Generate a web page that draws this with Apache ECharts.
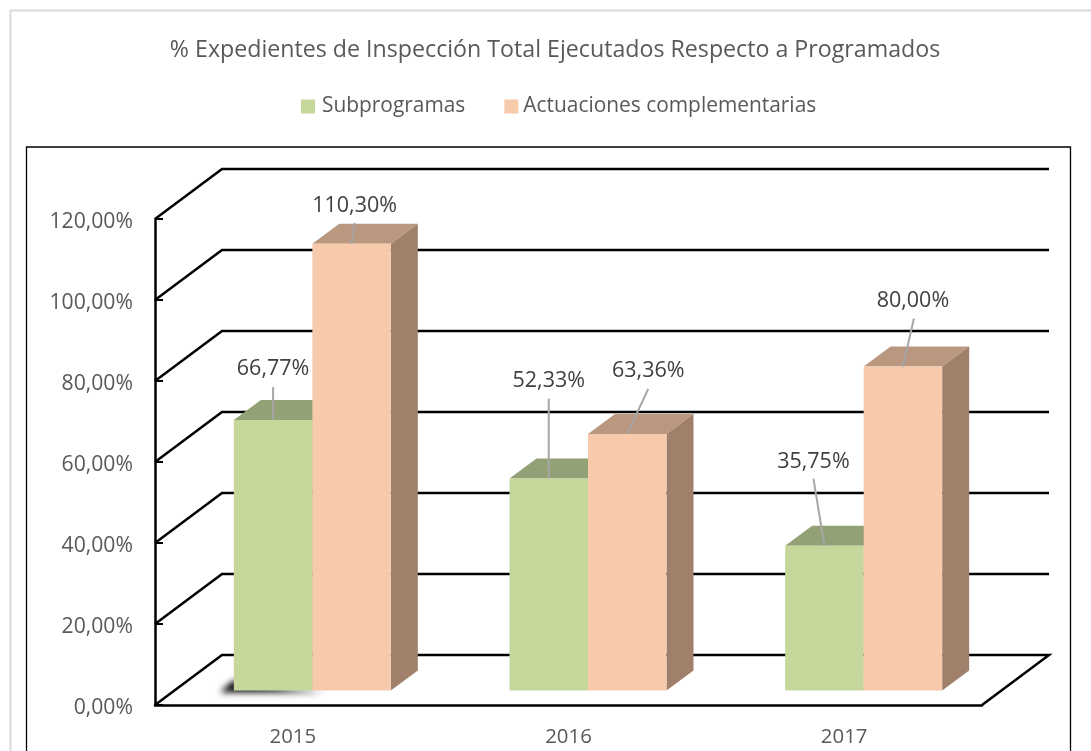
<!DOCTYPE html>
<html>
<head>
<meta charset="utf-8">
<style>html,body{margin:0;padding:0;background:#fff}#c{width:1091px;height:751px}</style>
<script src="https://cdn.jsdelivr.net/npm/echarts@6/dist/echarts.min.js"></script>
</head>
<body>
<div id="c"></div>
<script>
const categories = ['2015', '2016', '2017'];
const subprogramas = [66.77, 52.33, 35.75];
const actuaciones = [110.30, 63.36, 80.00];
const yTicks = [0, 20, 40, 60, 80, 100, 120];

const FONT = '"Open Sans", sans-serif';
const WALL = { dx: 67, dy: 50 };
const BAR_DEPTH = { dx: 27, dy: 20 };
const BAR_INSET = { dx: 19.5, dy: 14.5 };
const BAR_W = 78.5;
// leader line geometry of each data label, relative to the bar top centre
const leaders = {
  sub: [
    { top: [0, -33], lab: [0, -51] },
    { top: [0, -80], lab: [0, -98] },
    { top: [-11, -67], lab: [-11, -84] }
  ],
  act: [
    { top: [3, -21], lab: [3, -38] },
    { top: [21, -45], lab: [21, -63] },
    { top: [11, -48], lab: [10, -66] }
  ]
};

function fmt(v) { return v.toFixed(2).replace('.', ',') + '%'; }

function wallItem(params, api) {
  const v = api.value(0);
  const cs = params.coordSys;
  const y = api.coord([0, v])[1];
  const x0 = cs.x, x1 = cs.x + cs.width;
  const pts = [[x0, y], [x0 + WALL.dx, y - WALL.dy], [x1 + WALL.dx, y - WALL.dy]];
  if (v === 0) pts.push([x1, y]);
  return { type: 'polyline', shape: { points: pts }, style: { stroke: '#000', lineWidth: 2.5, fill: null } };
}

function barRenderer(side, shift, front, top, right) {
  return function (params, api) {
    const i = api.value(0), v = api.value(1);
    const base = api.coord([i, 0]), head = api.coord([i, v]);
    const cx = base[0] + BAR_INSET.dx + shift;
    const xl = cx - BAR_W / 2, xr = cx + BAR_W / 2;
    const yb = base[1] - BAR_INSET.dy, yt = head[1] - BAR_INSET.dy;
    const d = BAR_DEPTH;
    const children = [];
    if (side === 'sub' && i === 0) {
      const off = 3000;
      children.push({
        type: 'polygon',
        shape: { points: [[xl - off - 1, yb - 10], [xl - off + 60, yb - 1], [xl - off + 90, yb + 2], [xl - off - 14, yb + 2]] },
        style: { fill: '#000', shadowBlur: 6, shadowColor: 'rgba(0,0,0,0.95)', shadowOffsetX: off, shadowOffsetY: 0 }
      });
    }
    children.push(
      { type: 'polygon', shape: { points: [[xl, yt], [xl + d.dx, yt - d.dy], [xr + d.dx, yt - d.dy], [xr, yt]] }, style: { fill: top } },
      { type: 'polygon', shape: { points: [[xr, yt], [xr + d.dx, yt - d.dy], [xr + d.dx, yb - d.dy], [xr, yb]] }, style: { fill: right } },
      { type: 'rect', shape: { x: xl, y: yt, width: BAR_W, height: yb - yt }, style: { fill: front } }
    );
    const L = leaders[side][i];
    children.push(
      { type: 'line', shape: { x1: cx, y1: yt, x2: cx + L.top[0], y2: yt + L.top[1] }, style: { stroke: '#A6A6A6', lineWidth: 2 } },
      { type: 'text', style: { x: cx + L.lab[0], y: yt + L.lab[1], text: fmt(v), fill: '#404040', font: '21.5px ' + FONT, align: 'center', verticalAlign: 'middle' } }
    );
    return { type: 'group', children };
  };
}

const chart = echarts.init(document.getElementById('c'), null, { renderer: 'canvas', width: 1091, height: 751 });
chart.setOption({
  animation: false,
  backgroundColor: '#fff',
  title: {
    text: '% Expedientes de Inspección Total Ejecutados Respecto a Programados',
    left: 550, top: 34, textAlign: 'center',
    textStyle: { fontFamily: FONT, fontWeight: 'normal', fontSize: 23.2, color: '#595959' }
  },
  legend: {
    left: 296, top: 91, itemWidth: 14, itemHeight: 14, itemGap: 39, icon: 'rect',
    textStyle: { fontFamily: FONT, fontSize: 20.9, color: '#595959', padding: [0, 0, 0, 2] },
    data: [
      { name: 'Subprogramas' },
      { name: 'Actuaciones complementarias', textStyle: { padding: [0, 0, 0, 0] } }
    ]
  },
  graphic: [
    { type: 'rect', z: -10, shape: { x: 10.5, y: 10.5, width: 1100, height: 800 }, style: { fill: null, stroke: '#D9D9D9', lineWidth: 2 } },
    { type: 'rect', z: -9, shape: { x: 26.5, y: 147, width: 1044, height: 700 }, style: { fill: '#fff', stroke: '#000', lineWidth: 1.3 } }
  ],
  grid: { left: 155, top: 219, width: 827, height: 486, containLabel: false },
  xAxis: {
    type: 'category', data: categories,
    axisLine: { show: true, onZero: false, lineStyle: { color: '#000', width: 2.5 } },
    axisTick: { show: false },
    axisLabel: { margin: 22, fontFamily: FONT, fontSize: 20.4, color: '#595959' }
  },
  yAxis: {
    type: 'value', min: 0, max: 120, interval: 20,
    axisLine: { show: true, lineStyle: { color: '#000', width: 2.5 } },
    axisTick: { show: true, inside: true, length: 8, lineStyle: { color: '#000', width: 2 } },
    splitLine: { show: false },
    axisLabel: { margin: 22, verticalAlign: 'top', lineHeight: 5, fontFamily: FONT, fontSize: 21.2, color: '#595959', formatter: v => v.toFixed(2).replace('.', ',') + '%' }
  },
  series: [
    { name: 'wall', type: 'custom', z: 1, silent: true, renderItem: wallItem, data: yTicks.map(v => [v]), encode: { y: 0 } },
    {
      name: 'Subprogramas', type: 'custom', z: 2, itemStyle: { color: '#C5D79B' },
      renderItem: barRenderer('sub', -BAR_W / 2, '#C5D79B', '#93A176', '#93A176'),
      data: subprogramas.map((v, i) => [i, v]), encode: { x: 0, y: 1 }
    },
    {
      name: 'Actuaciones complementarias', type: 'custom', z: 3, itemStyle: { color: '#F7CAAC' },
      renderItem: barRenderer('act', BAR_W / 2, '#F7CAAC', '#BA977F', '#A0806B'),
      data: actuaciones.map((v, i) => [i, v]), encode: { x: 0, y: 1 }
    }
  ]
});
</script>
</body>
</html>
